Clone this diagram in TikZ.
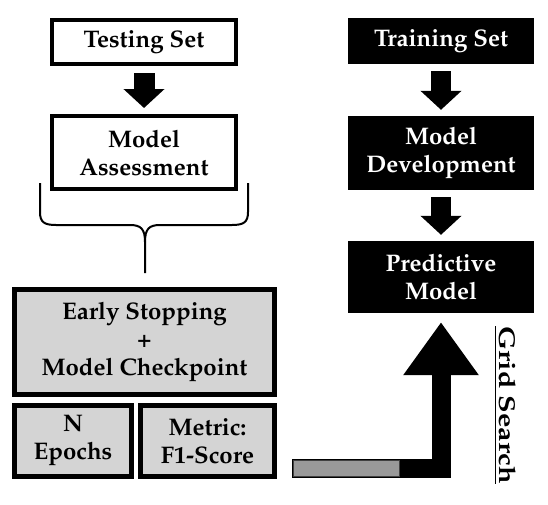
\documentclass[tikz,border=0pt]{standalone}
\IfFileExists{mathpazo.sty}{\usepackage[T1]{fontenc}\usepackage{mathpazo}}{\usepackage{fontspec}\setmainfont{Liberation Serif}}
\usetikzlibrary{arrows.meta}
\tikzset{
  >=stealth,
  every node/.style={font=\fontsize{24}{28}\selectfont\bfseries, align=center},
  whitebox/.style={draw, line width=4pt, fill=white, minimum width=184pt, inner sep=0pt},
  blackbox/.style={fill=black, text=white, minimum width=186pt, inner sep=0pt},
  greybox/.style={draw, line width=5pt, fill=black!17, inner sep=0pt},
  downarrow/.style={line width=21pt, -{Triangle[width=40pt,length=19pt]}, shorten <=7pt, shorten >=6pt},
  gsarrow/.style={line width=19pt, line join=miter, -{Triangle[width=72pt,length=53pt]}, shorten >=9pt}
}
\begin{document}
\begin{tikzpicture}[x=1pt,y=-1pt]
  \useasboundingbox (0,0) rectangle (548,504);

  % left column
  \node[whitebox, minimum height=44pt] (test) at (144,42) {Testing Set};
  \node[whitebox, minimum height=73pt] (assess) at (144,152.5) {Model\\Assessment};
  \draw[downarrow] (test) -- (assess);

  % right column
  \node[blackbox, minimum height=46pt] (train) at (441,41) {Training Set};
  \node[blackbox, minimum height=74pt] (develop) at (441,153) {Model\\Development};
  \node[blackbox, minimum height=72pt] (pred) at (441,277) {Predictive\\Model};
  \draw[downarrow, line width=20pt] (train) -- (develop);
  \draw[downarrow, line width=20pt] (develop) -- (pred);

  % brace
  \draw[line width=2pt] (40,183) -- (40,212) .. controls (40,222) and (44,225) .. (56,225)
    -- (130,225) .. controls (141,225) and (145,229) .. (145,242) -- (145,273);
  \draw[line width=2pt] (248,183) -- (248,212) .. controls (248,222) and (244,225) .. (232,225)
    -- (160,225) .. controls (149,225) and (145,229) .. (145,242);

  % callbacks
  \node[greybox, minimum width=260pt, minimum height=105pt] (stop) at (144.5,342)
    {Early Stopping\\+\\Model Checkpoint};
  \node[greybox, minimum width=117pt, minimum height=71pt] (epochs) at (73,441) {N\\Epochs};
  \node[greybox, minimum width=134pt, minimum height=71pt] (metric) at (207.5,441) {Metric:\\F1-Score};

  % grid search
  \coordinate (gsstart) at (292,468);
  \draw[gsarrow] (gsstart) -| (pred);
  \draw[fill=black!40, draw=black!75, line width=1pt] (293,460) rectangle (399,476);
  \node[rotate=-90, inner sep=0pt, font=\fontsize{23}{27}\selectfont\bfseries] (gs) at (505,405)
    {\scalebox{1.25}[1]{\underline{Grid Search}}};
\end{tikzpicture}
\end{document}
